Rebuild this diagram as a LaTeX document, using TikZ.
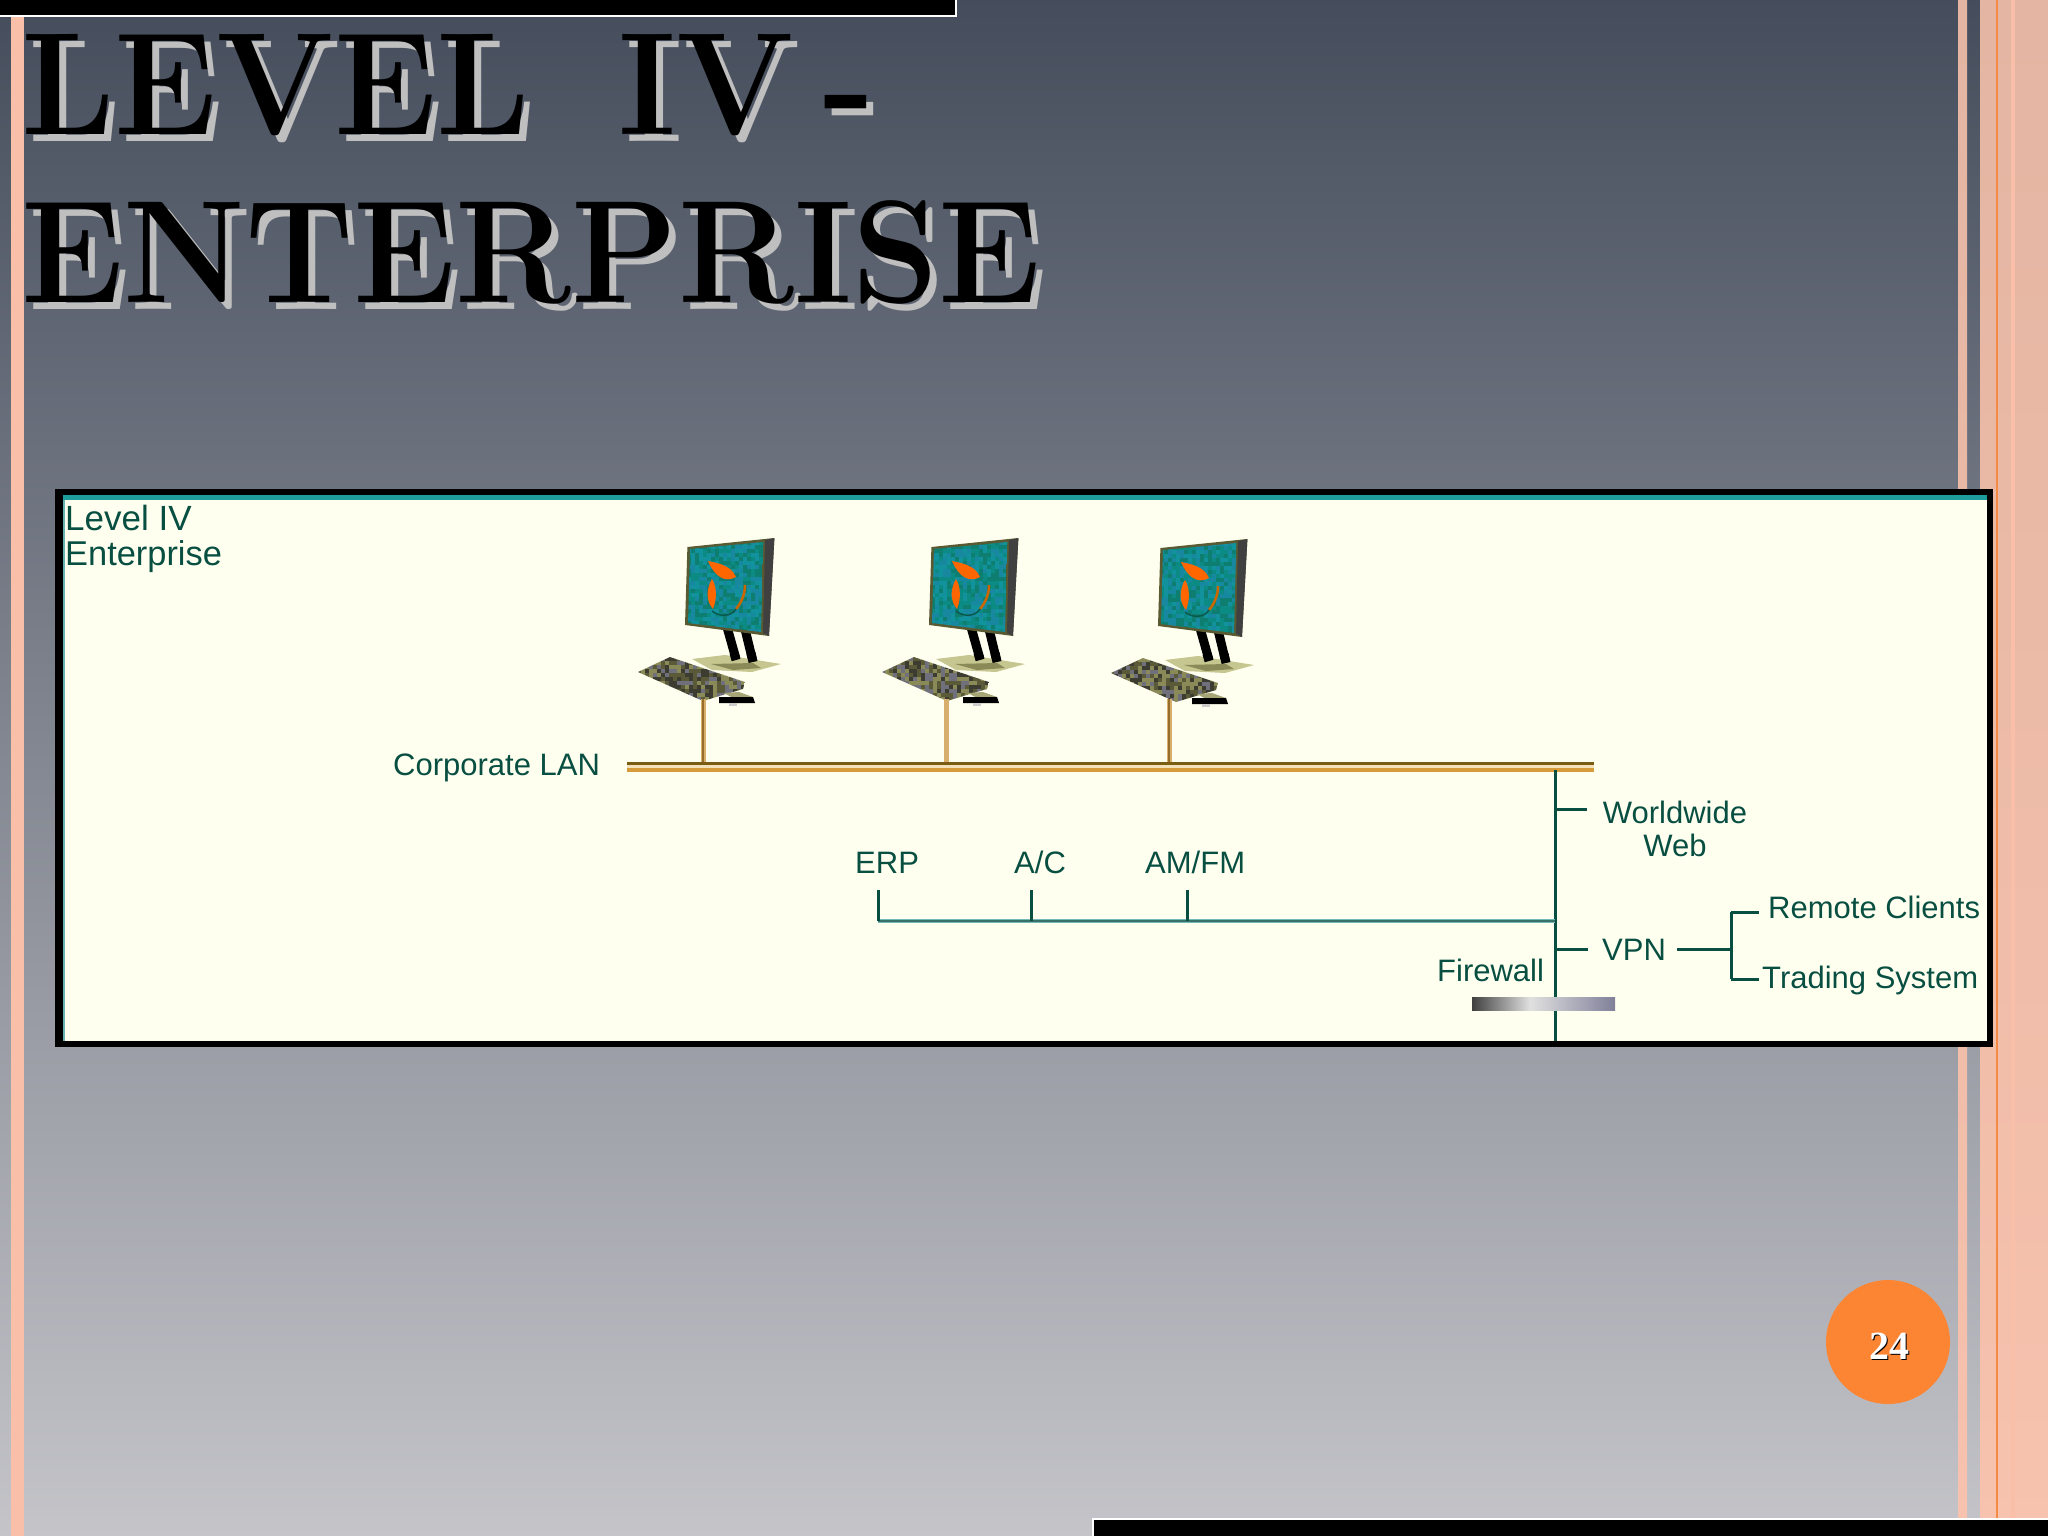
\documentclass[tikz,border=0pt]{standalone}
\usepackage{fontspec}
\newfontfamily\labfont{Liberation Sans}
\newfontfamily\numfont{Liberation Serif}
\definecolor{bgtop}{HTML}{454D5C}
\definecolor{bgbot}{HTML}{C4C4C9}
\definecolor{stripa}{HTML}{E3B5A2}
\definecolor{stripb}{HTML}{F7C2AE}
\definecolor{stripedge}{HTML}{F9BFA8}
\definecolor{orangeline}{HTML}{F58A45}
\definecolor{badge}{HTML}{FC8534}
\definecolor{panel}{HTML}{FFFFF0}
\definecolor{labtext}{HTML}{084F42}
\definecolor{tealstrip}{HTML}{1E9C9C}
\definecolor{busgold}{HTML}{D69C3C}
\definecolor{busdark}{HTML}{7A5C12}
\definecolor{dropcol}{HTML}{D8AE6C}
\definecolor{kb0}{HTML}{5A5A38}
\definecolor{kb1}{HTML}{8A8A58}
\definecolor{kb2}{HTML}{70707C}
\definecolor{kb3}{HTML}{3C3C30}
\definecolor{sc0}{HTML}{0C8A84}
\definecolor{sc1}{HTML}{12929C}
\definecolor{sc2}{HTML}{0E7E70}
\definecolor{sc3}{HTML}{1788A0}
\definecolor{frameol}{HTML}{5A5A32}
\definecolor{basea}{HTML}{C6C690}
\tikzset{
  x=1pt,y=-1pt,
  lab/.style={anchor=base west,inner sep=0pt,text=labtext,font=\labfont\fontsize{31}{31}\selectfont},
  labmid/.style={lab,anchor=base},
  wire/.style={draw=labtext,line width=3pt},
  titletext/.style={anchor=base west,inner sep=0pt,font=\bfseries\fontsize{146}{146}\selectfont\addfontfeature{FakeBold=2},xscale=0.948},
  pics/workstation/.style={code={
    % legs
    \draw[black,line width=9pt] (24,-70) -- (33,-38);
    \draw[black,line width=9pt] (42,-68) -- (50,-35);
    % monitor body
    \fill[frameol] (-18,-72) -- (-15.6,-150) -- (71.4,-159) -- (66,-61) -- cycle;
    \fill[black!75] (62,-157) -- (71.4,-159) -- (66,-61) -- (60,-64) -- cycle;
    \begin{scope}
      \clip (-13,-148) -- (60.3,-155) -- (58,-65) -- (-15,-74) -- cycle;
      \foreach \i in {-16,-12,...,62}{\foreach \j in {-156,-152,...,-62}{
        \pgfmathtruncatemacro\rr{random(0,3)}
        \fill[sc\rr] (\i,\j) rectangle ++(4.2,4.2);
      }}
    \end{scope}
    % logo
    \fill[orange!80!red] (5,-136) .. controls (14,-134) and (28,-132) .. (33,-120) .. controls (22,-114) and (12,-120) .. cycle;
    \fill[orange!80!red] (9,-118) .. controls (3,-108) and (3,-96) .. (10,-88) .. controls (14,-98) and (14,-110) .. cycle;
    \draw[orange!80!black,line width=2.5pt] (42,-112) .. controls (42,-102) and (38,-94) .. (33,-88);
    \draw[sc2!70!black,line width=1.5pt] (9,-86) .. controls (16,-80) and (28,-80) .. (33,-88);
    % base
    \fill[basea] (-11,-38) -- (22,-42) -- (78,-33) -- (49,-25) -- (9,-27) -- cycle;
    \fill[kb1] (8,-33) -- (50,-34) -- (58,-29) -- (30,-27) -- cycle;
    \draw[black,line width=9pt] (31,-44) -- (33,-37);
    \draw[black,line width=9pt] (48,-44) -- (50,-35);
    % keyboard
    \begin{scope}
      \clip (-65,-25) -- (-33,-40) -- (42,-15) -- (40,-8) -- (0,4) -- cycle;
      \foreach \i in {-66,-62,...,42}{\foreach \j in {-40,-36,...,4}{
        \pgfmathtruncatemacro\rr{random(0,3)}
        \fill[kb\rr] (\i,\j) rectangle ++(4.2,4.2);
      }}
    \end{scope}
    % mouse
    \fill[basea!70!kb0] (21,-4) -- (36,-5) -- (50,0) -- (30,1) -- cycle;
    \fill[black] (16,0) -- (50,0) -- (52,6) -- (16,6) -- cycle;
    \fill[gray!40] (26,6) rectangle (34,9);
  }}
}
\begin{document}
\begin{tikzpicture}
\pgfmathsetseed{11}
\useasboundingbox (0,0) rectangle (2048,1536);
% background
\shade[top color=bgtop,bottom color=bgbot] (0,0) rectangle (2048,1536);
% side strips
\fill[stripedge] (10.5,17) rectangle (23.5,1536);
\shade[top color=stripa,bottom color=stripb] (1958,0) rectangle (1967,1536);
\shade[top color=stripa,bottom color=stripb] (1980,0) rectangle (2048,1536);
\fill[stripedge] (2011,0) rectangle (2015,1536);
\fill[orangeline] (1996,0) rectangle (1998,1536);
% top and bottom bars
\fill[white] (0,0) rectangle (957,17);
\fill[black] (0,0) rectangle (955,15.5);
\fill[white] (1092,1518) rectangle (2048,1536);
\fill[black] (1094,1520) rectangle (2048,1536);
% title
\node[titletext,text=black!25] (t1s) at (28,142) {LEVEL\hspace{93pt}IV\hspace{31pt}-};
\node[titletext,text=black!25] (t2s) at (28,309) {ENTERPRISE};
\node[titletext,text=black] (t1) at (21,135) {LEVEL\hspace{93pt}IV\hspace{31pt}-};
\node[titletext,text=black] (t2) at (21,302) {ENTERPRISE};
% panel
\fill[black] (55,489) rectangle (1993,1047);
\fill[panel] (63,495) rectangle (1987,1041);
\fill[tealstrip] (63,495) rectangle (1987,500);
\fill[teal!60!white] (63,500) rectangle (65,1041);
% computers
\pic (pc1) at (703,697) {workstation};
\pic (pc2) at (947,697) {workstation};
\pic (pc3) at (1176,698) {workstation};
% junction coordinates
\coordinate (busL) at (627,767);
\coordinate (busR) at (1594,767);
\coordinate (d1t) at (703,699);
\coordinate (d1b) at (703,765);
\coordinate (d2t) at (946,699);
\coordinate (d2b) at (946,765);
\coordinate (d3t) at (1169,699);
\coordinate (d3b) at (1169,765);
\coordinate (mainT) at (1555,770);
\coordinate (mainB) at (1555,1041);
\coordinate (wwwJ) at (1555,809);
\coordinate (wwwE) at (1587,809);
\coordinate (vpnJ) at (1555,949);
\coordinate (vpnE) at (1588,949);
\coordinate (vpnO) at (1677,949);
\coordinate (fork) at (1731,949);
\coordinate (forkT) at (1731,912);
\coordinate (forkB) at (1731,979);
\coordinate (remE) at (1759,912);
\coordinate (traE) at (1759,979);
\coordinate (appJ) at (1555,921);
\coordinate (erpT) at (878,890);
\coordinate (erpB) at (878,921);
\coordinate (acT) at (1031,890);
\coordinate (acB) at (1031,921);
\coordinate (amT) at (1187,890);
\coordinate (amB) at (1187,921);
% LAN
\draw[dropcol,line width=5pt] (d1t) -- (d1b);
\draw[dropcol,line width=5pt] (d2t) -- (d2b);
\draw[dropcol,line width=5pt] (d3t) -- (d3b);
\draw[busgold!70!black,line width=1.5pt] (d1t) -- (d1b);
\draw[busgold!70!black,line width=1.5pt] (d3t) -- (d3b);
\draw[busgold,line width=10pt] (busL) -- (busR);
\fill[busdark] (627,762) rectangle (1594,765);
\fill[panel!70!busgold] (627,765) rectangle (1594,767.5);
% wiring
\draw[wire] (mainT) -- (mainB);
\draw[wire] (wwwJ) -- (wwwE);
\draw[wire] (vpnJ) -- (vpnE);
\draw[wire] (vpnO) -- (fork);
\draw[wire] (forkT) -- (forkB);
\draw[wire] (forkT) -- (remE);
\draw[wire] (forkB) -- (traE);
\draw[teal!55!white,line width=4pt] (erpB) -- (appJ);
\draw[labtext!80!white,line width=2pt] (erpB) -- (appJ);
\draw[wire] (erpT) -- (erpB);
\draw[wire] (acT) -- (acB);
\draw[wire] (amT) -- (amB);
% firewall
\shade[left color=black!75,right color=black!12] (1472,997) rectangle (1530,1010);
\shade[left color=black!12,right color=blue!20!black!50] (1530,997) rectangle (1615,1010);
% labels
\node[lab,font=\labfont\fontsize{35}{35}\selectfont] (lvl) at (65,530) {Level IV};
\node[lab,font=\labfont\fontsize{34.4}{34.4}\selectfont] (ent) at (65,565) {Enterprise};
\node[lab] (lan) at (393,775) {Corporate LAN};
\node[lab] (erp) at (855,873) {ERP};
\node[lab] (ac) at (1014,873) {A/C};
\node[lab] (amfm) at (1145,873) {AM/FM};
\node[labmid] (www) at (1675,823) {Worldwide};
\node[labmid] (web) at (1675,856) {Web};
\node[lab] (vpn) at (1602,960) {VPN};
\node[lab] (rem) at (1768,918) {Remote Clients};
\node[lab] (tra) at (1762,988) {Trading System};
\node[lab] (fw) at (1437,981) {Firewall};
% page number
\node[circle,fill=badge,minimum size=124pt,inner sep=0pt] (badgeN) at (1888,1342) {};
\node[anchor=center,inner sep=0pt,text=black,font=\numfont\bfseries\fontsize{40}{40}\selectfont] (numS) at (1890.5,1347.5) {24};
\node[anchor=center,inner sep=0pt,text=white,font=\numfont\bfseries\fontsize{40}{40}\selectfont] (num) at (1889,1346) {24};
\end{tikzpicture}
\end{document}
